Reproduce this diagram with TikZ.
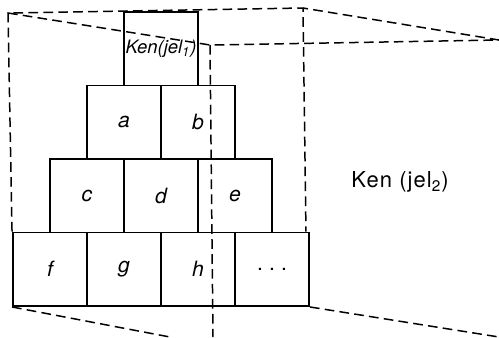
\documentclass[tikz,border=0pt]{standalone}
\usepackage{fontspec}
\setsansfont{TeX Gyre Heros}
\newfontfamily\widesans[LetterSpace=5]{TeX Gyre Heros}
\usetikzlibrary{positioning, calc}

\begin{document}
\begin{tikzpicture}[
  font=\sffamily,
  cell/.style={draw, line width=1.1pt, minimum width=14.8mm,
               minimum height=14.7mm, inner sep=0.5pt,
               font=\sffamily\itshape\fontsize{12}{14}\selectfont},
  hidden/.style={line width=0.85pt, dash pattern=on 5.5pt off 3pt},
  title/.style={draw=none, font=\widesans\fontsize{12.5}{14}\selectfont},
]
\useasboundingbox (0,0) rectangle (9.98,-6.74);

\node[cell] (jel1) at (3.22,-0.975) {\fontsize{10.5}{12}\selectfont Ken(jel\textsubscript{1})};

\node[cell] (a) at (2.48,-2.445) {a};
\node[cell] (b) at (3.96,-2.445) {b};

\node[cell] (c) at (1.74,-3.915) {c};
\node[cell] (d) at (3.22,-3.915) {d};
\node[cell] (e) at (4.70,-3.915) {e};

\node[cell] (f) at (1.00,-5.385) {f};
\node[cell] (g) at (2.48,-5.385) {g};
\node[cell] (h) at (3.96,-5.385) {h};
\node[cell] (more) at (5.44,-5.385) {\upshape .\hspace{3.5pt}.\hspace{3.5pt}.};

\node[title] (jel2) at (8.00,-3.64) {Ken (jel\textsubscript{2})};

\coordinate (bl) at (0.16,-0.26);
\coordinate (br) at (6.06,-0.16);
\coordinate (fl) at (4.20,-0.90);
\coordinate (fr) at (9.98,-0.80);
\coordinate (fb) at (4.26,-6.74);
\coordinate (bb) at ($(more.north east)+(-0.08,0)$);
\coordinate (lb) at (3.40,-6.74);
\coordinate (rb) at (9.98,-6.74);

\draw[hidden] (f.north west) -- (bl) -- (br) -- (bb);
\draw[hidden] (bl) -- (fl) -- (fr) -- (br);
\draw[hidden] (fl) -- (fb);
\draw[hidden] (f.south west) -- (lb);
\draw[hidden] (more.south east) -- (rb);

\end{tikzpicture}
\end{document}
